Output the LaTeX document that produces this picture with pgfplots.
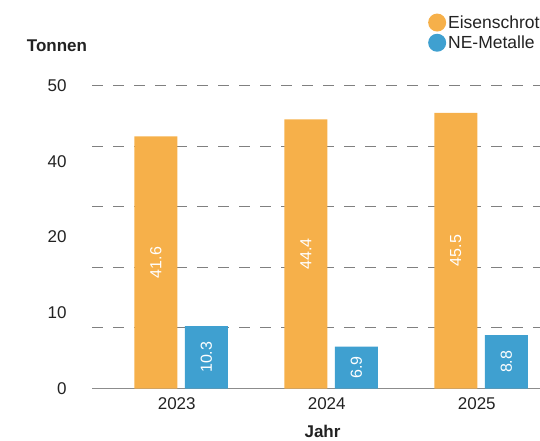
\documentclass[border=0pt]{standalone}
\usepackage{fontspec}
\setmainfont{Liberation Sans}
\usepackage{graphicx}
\usepackage{pgfplots}
\pgfplotsset{compat=1.18}
\definecolor{orangebar}{HTML}{F6B04A}
\definecolor{bluebar}{HTML}{3FA0D0}
\definecolor{txt}{HTML}{222222}
\begin{document}
\begin{tikzpicture}
\useasboundingbox (0,0) rectangle (540pt,440pt);
\begin{axis}[
  at={(92pt,51.5pt)}, anchor=south west,
  scale only axis, width=453pt, height=303pt,
  xmin=-0.565, xmax=2.455, ymin=0, ymax=50,
  /pgf/number format/assume math mode=true,
  font=\fontsize{17}{20}\selectfont,
  xtick={0,1,2}, xticklabels={2023,2024,2025},
  ytick={0,12.5,25,37.5,50}, yticklabels={0,10,20,40,50},
  extra y ticks={10,20,30,40,50}, extra y tick labels={},
  extra y tick style={ymajorgrids=true, major tick length=0pt},
  major grid style={dash pattern=on 11pt off 10pt, color=black!50, line width=1pt},
  major tick length=0pt,
  axis x line*=bottom, axis y line*=left,
  y axis line style={draw=none},
  x axis line style={black!45, line width=1pt, -},
  ticklabel style={text=txt},
  yticklabel style={xshift=-22pt},
  xticklabel style={yshift=-6pt},
  legend style={at={(0.735,1.245)}, anchor=north west, draw=none, fill=none,
    font=\fontsize{17.5}{20}\selectfont, row sep=2pt, text=txt},
  legend cell align=left,
  visualization depends on={rawy \as \rawy},
  nodes near coords={\rotatebox{90}{\pgfmathprintnumber{\pgfplotspointmeta}}},
  every node near coord/.style={font=\fontsize{16}{19}\selectfont, text=white,
    anchor=center, yshift={-3.03pt*\rawy}},
]
\addplot[ybar, bar width=43pt, bar shift=-21pt, fill=orangebar, draw=none,
  every node near coord/.append style={xshift=-21pt},
  legend image code/.code={\fill[orangebar] (-4pt,0pt) circle (9pt);}]
  coordinates {(0,41.6) (1,44.4) (2,45.5)};
\addlegendentry{Eisenschrott}
\addplot[ybar, bar width=43pt, bar shift=29.5pt, fill=bluebar, draw=none,
  every node near coord/.append style={xshift=29.5pt},
  legend image code/.code={\fill[bluebar] (-4pt,0pt) circle (9pt);}]
  coordinates {(0,10.3) (1,6.9) (2,8.8)};
\addlegendentry{NE-Metalle}
\end{axis}
\node[font=\fontsize{17}{20}\selectfont\bfseries, text=txt] at (57pt,394pt) {Tonnen};
\node[font=\fontsize{17}{20}\selectfont\bfseries, text=txt, anchor=base] at (322.5pt,2.5pt) {Jahr};
\end{tikzpicture}
\end{document}
